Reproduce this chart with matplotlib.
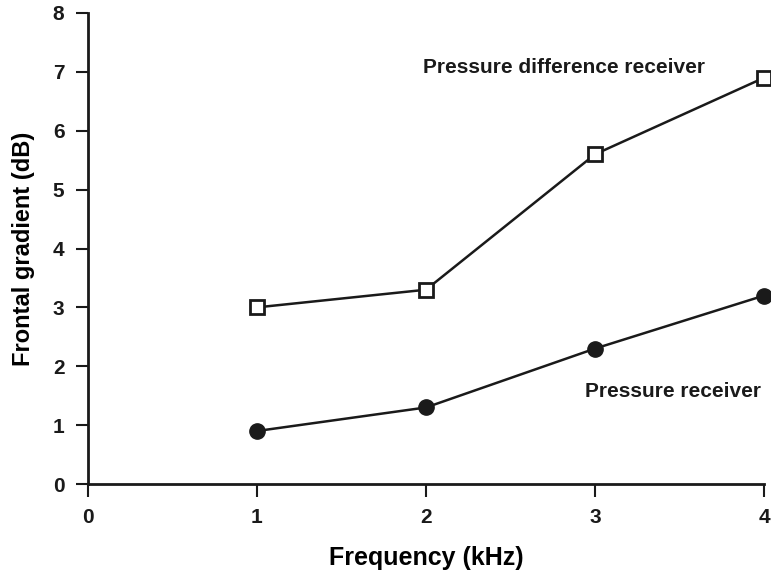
import matplotlib
matplotlib.use("Agg")
import matplotlib.pyplot as plt

freq = [1, 2, 3, 4]
pressure_receiver = [0.9, 1.3, 2.3, 3.2]
pressure_diff_receiver = [3.0, 3.3, 5.6, 6.9]
xticks = [0, 1, 2, 3, 4]
yticks = [0, 1, 2, 3, 4, 5, 6, 7, 8]

plt.rcParams['font.family'] = ['Liberation Sans', 'DejaVu Sans']
plt.rcParams['font.weight'] = 'bold'

fig = plt.figure(figsize=(7.71, 5.72), dpi=100)
ax = fig.add_axes([88 / 771, 1 - 484 / 572, 676 / 771, 471 / 572])

ax.plot(freq, pressure_diff_receiver, color='#1a1a1a', lw=1.8, marker='s', ms=10,
        mfc='white', mec='#1a1a1a', mew=2.0, clip_on=False, zorder=3)
ax.plot(freq, pressure_receiver, color='#1a1a1a', lw=1.8, marker='o', ms=11,
        mfc='#1a1a1a', mec='#1a1a1a', clip_on=False, zorder=3)

ax.set_xlim(0, 4)
ax.set_ylim(0, 8)
ax.set_xticks(xticks)
ax.set_yticks(yticks)
for s in ['top', 'right']:
    ax.spines[s].set_visible(False)
for s in ['left', 'bottom']:
    ax.spines[s].set_linewidth(2.0)
    ax.spines[s].set_color('#1a1a1a')
ax.tick_params(direction='out', length=9, width=1.5, labelsize=15, colors='#1a1a1a', pad=8)
for lbl in ax.get_xticklabels() + ax.get_yticklabels():
    lbl.set_fontweight('bold')

ax.set_xlabel('Frequency (kHz)', fontsize=18, fontweight='bold', labelpad=14)
ax.set_ylabel('Frontal gradient (dB)', fontsize=17, fontweight='bold', labelpad=13)

ax.text(1.98, 6.98, 'Pressure difference receiver', fontsize=15, fontweight='bold',
        ha='left', va='baseline', color='#1a1a1a')
ax.text(2.94, 1.47, 'Pressure receiver', fontsize=15, fontweight='bold',
        ha='left', va='baseline', color='#1a1a1a')

fig.savefig('out.png', dpi=100)
